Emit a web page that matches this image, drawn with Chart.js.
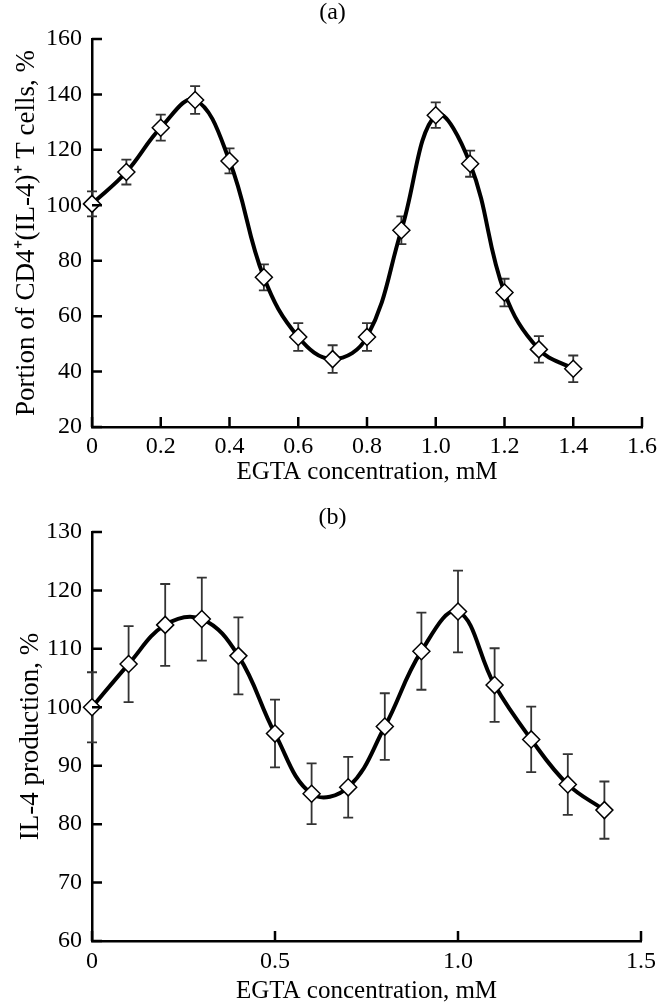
<!DOCTYPE html>
<html>
<head>
<meta charset="utf-8">
<script src="https://cdn.jsdelivr.net/npm/chart.js@4.4.0/dist/chart.umd.min.js"></script>
<style>
  html, body { margin: 0; padding: 0; background: #fff; }
  #wrap { position: relative; width: 665px; height: 1005px; }
  canvas { position: absolute; left: 0; }
  #ca { top: 0; }
  #cb { top: 492px; }
</style>
</head>
<body>
<div id="wrap">
  <canvas id="ca" width="665" height="492"></canvas>
  <canvas id="cb" width="665" height="513"></canvas>
</div>
<script>
// ---- data ----
const concA = [0, 0.1, 0.2, 0.3, 0.4, 0.5, 0.6, 0.7, 0.8, 0.9, 1.0, 1.1, 1.2, 1.3, 1.4];
const cellsA = [100.5, 112, 128, 138, 116, 74, 52.5, 44.5, 52.5, 91, 132.5, 115, 68.5, 48, 41];
const errA = [4.5, 4.5, 4.7, 5, 4.5, 4.7, 5, 5, 5, 5, 4.6, 4.7, 5, 4.8, 4.8];

const concB = [0, 0.1, 0.2, 0.3, 0.4, 0.5, 0.6, 0.7, 0.8, 0.9, 1.0, 1.1, 1.2, 1.3, 1.4];
const il4B = [100, 107.4, 114.1, 115.1, 108.8, 95.5, 85.2, 86.3, 96.7, 109.6, 116.4, 103.8, 94.5, 86.8, 82.4];
const errB = [6, 6.5, 7, 7.1, 6.6, 5.8, 5.2, 5.2, 5.7, 6.6, 7, 6.3, 5.6, 5.2, 4.9];

const xTicksA = [0, 0.2, 0.4, 0.6, 0.8, 1.0, 1.2, 1.4, 1.6];
const yTicksA = [20, 40, 60, 80, 100, 120, 140, 160];
const xTicksB = [0, 0.5, 1.0, 1.5];
const yTicksB = [60, 70, 80, 90, 100, 110, 120, 130];

const FONT = '"Liberation Serif", "Times New Roman", serif';

const errorBarPlugin = {
  id: 'errorBars',
  beforeDatasetsDraw(chart) {
    const errs = chart.options.plugins.errorBars.errors;
    const xs = chart.scales.x, ys = chart.scales.y;
    const ctx = chart.ctx;
    ctx.save();
    ctx.strokeStyle = '#333';
    ctx.lineWidth = 1.8;
    chart.data.datasets[0].data.forEach((p, i) => {
      const px = xs.getPixelForValue(p.x);
      const t = ys.getPixelForValue(p.y + errs[i]);
      const b = ys.getPixelForValue(p.y - errs[i]);
      ctx.beginPath();
      ctx.moveTo(px, t); ctx.lineTo(px, b);
      ctx.moveTo(px - 5, t); ctx.lineTo(px + 5, t);
      ctx.moveTo(px - 5, b); ctx.lineTo(px + 5, b);
      ctx.stroke();
    });
    ctx.restore();
  }
};

const inwardTicks = {
  id: 'inwardTicks',
  afterDraw(chart) {
    const ctx = chart.ctx;
    const xs = chart.scales.x, ys = chart.scales.y;
    const a = chart.chartArea;
    ctx.save();
    ctx.strokeStyle = '#000';
    ctx.lineWidth = 2.5;
    ctx.beginPath();
    xs.ticks.forEach(t => {
      const px = xs.getPixelForValue(t.value);
      ctx.moveTo(px, a.bottom); ctx.lineTo(px, a.bottom - 10);
    });
    ys.ticks.forEach(t => {
      const py = ys.getPixelForValue(t.value);
      ctx.moveTo(a.left, py); ctx.lineTo(a.left + 10, py);
    });
    ctx.stroke();
    ctx.restore();
  }
};

function fmt(v) { return v === 0 ? '0' : v.toFixed(1); }

function makeChart(canvasId, cfg) {
  const data = cfg.xs.map((x, i) => ({ x: x, y: cfg.ys[i] }));
  return new Chart(document.getElementById(canvasId), {
    type: 'line',
    data: {
      datasets: [{
        data: data,
        borderColor: '#000',
        borderWidth: 4,
        tension: 0.4,
        pointStyle: 'rectRot',
        pointRadius: 8.5,
        pointBackgroundColor: '#fff',
        pointBorderColor: '#000',
        pointBorderWidth: 1.5,
        clip: false
      }]
    },
    options: {
      responsive: false,
      animation: false,
      devicePixelRatio: 1,
      layout: { padding: { left: 0, right: 0, top: 0, bottom: 0 } },
      plugins: {
        legend: { display: false },
        tooltip: { enabled: false },
        title: {
          display: true,
          text: cfg.panel,
          color: '#000',
          font: { family: FONT, size: 24, weight: 'normal', lineHeight: 1 },
          padding: cfg.titlePad
        },
        errorBars: { errors: cfg.errs }
      },
      scales: {
        x: {
          type: 'linear',
          min: cfg.xTicks[0],
          max: cfg.xTicks[cfg.xTicks.length - 1],
          afterBuildTicks: s => { s.ticks = cfg.xTicks.map(v => ({ value: v })); },
          afterFit: s => { s.height = cfg.xHeight; },
          grid: { display: false, drawTicks: false },
          border: { display: true, color: '#000', width: 2.5 },
          ticks: {
            color: '#000', padding: cfg.xTickPad, maxRotation: 0, autoSkip: false,
            font: { family: FONT, size: 24, lineHeight: 1 },
            callback: v => fmt(v)
          },
          title: {
            display: true, text: 'EGTA concentration, mM', color: '#000',
            font: { family: FONT, size: 25, lineHeight: 1 },
            padding: { top: 0, bottom: cfg.xTitleBottom }
          }
        },
        y: {
          type: 'linear',
          min: cfg.yTicks[0],
          max: cfg.yTicks[cfg.yTicks.length - 1],
          afterBuildTicks: s => { s.ticks = cfg.yTicks.map(v => ({ value: v })); },
          afterFit: s => { s.width = 92; },
          grid: { display: false, drawTicks: false },
          border: { display: true, color: '#000', width: 2.5 },
          ticks: {
            color: '#000', padding: 10,
            font: { family: FONT, size: 24, lineHeight: 1 },
            callback: v => String(v)
          },
          title: {
            display: true, text: cfg.yTitle, color: '#000',
            font: { family: FONT, size: 27, lineHeight: 1 },
            padding: { top: cfg.yTitleTop, bottom: 0 }
          }
        },
        yR: {
          type: 'linear',
          position: 'right',
          min: 0, max: 1,
          afterFit: s => { s.width = 19; },
          grid: { display: false, drawTicks: false },
          border: { display: false },
          ticks: { display: false }
        }
      }
    },
    plugins: [errorBarPlugin, inwardTicks]
  });
}

makeChart('ca', {
  panel: '(a)', xs: concA, ys: cellsA, errs: errA,
  xTicks: xTicksA, yTicks: yTicksA,
  titlePad: { top: 1, bottom: 14 },
  xHeight: 65, xTickPad: 8, xTitleBottom: 7,
  yTitle: 'Portion of CD4\u207A(IL-4)\u207A T cells, %', yTitleTop: 13
});

makeChart('cb', {
  panel: '(b)', xs: concB, ys: il4B, errs: errB,
  xTicks: xTicksB, yTicks: yTicksB,
  titlePad: { top: 14, bottom: 2 },
  xHeight: 64, xTickPad: 9, xTitleBottom: 1,
  yTitle: 'IL-4 production, %', yTitleTop: 17
});
</script>
</body>
</html>
